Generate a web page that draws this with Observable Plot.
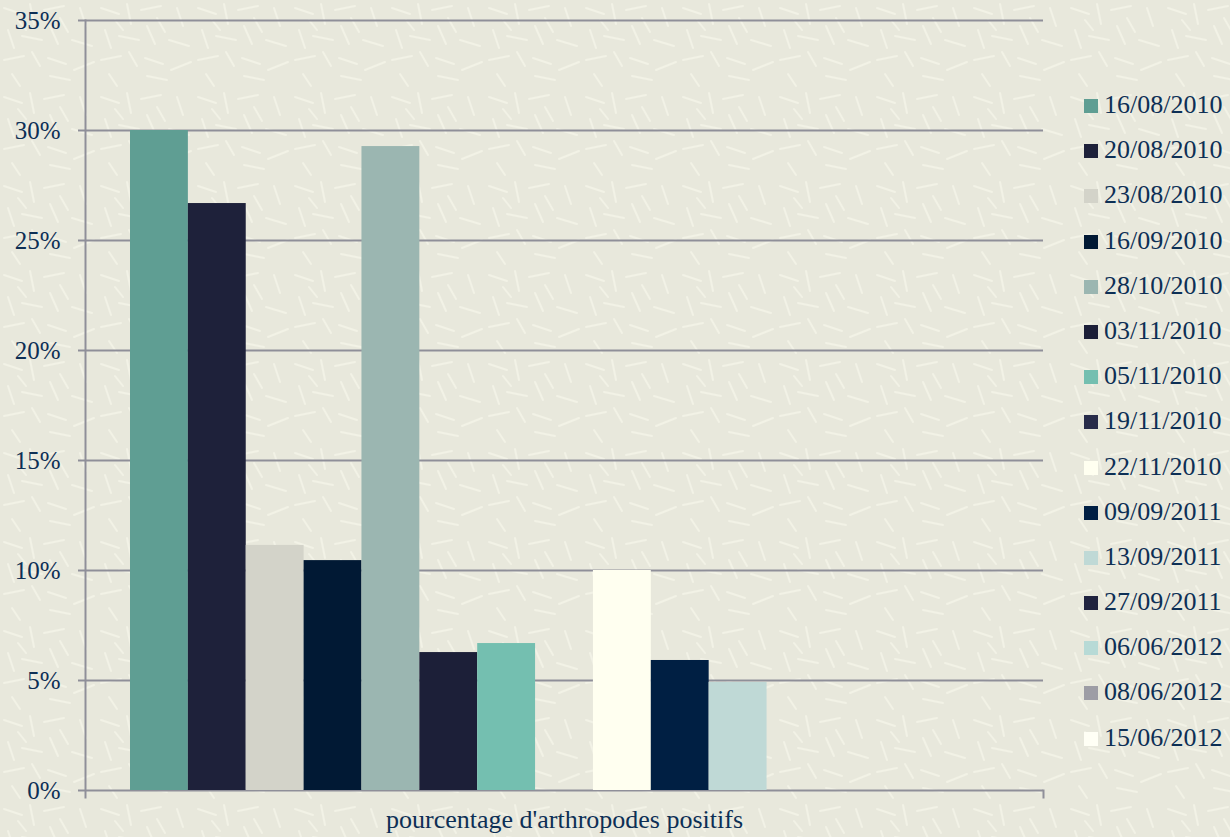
<!DOCTYPE html>
<html>
<head>
<meta charset="utf-8">
<script src="https://cdn.jsdelivr.net/npm/d3@7"></script>
<script src="https://cdn.jsdelivr.net/npm/@observablehq/plot@0.6"></script>
<style>
  html, body { margin: 0; padding: 0; }
  body {
    width: 1230px; height: 837px; position: relative; overflow: hidden;
    font-family: "Liberation Serif", "DejaVu Serif", serif;
    background-color: #e8e8dc;
    background-image: url("data:image/svg+xml;utf8,<svg xmlns='http://www.w3.org/2000/svg' width='97' height='89'><g stroke='%23f2f2e6' stroke-width='2' stroke-linecap='round' fill='none'><path d='M4 8 L22 14'/><path d='M30 4 L34 24'/><path d='M44 10 L64 6'/><path d='M8 30 L14 48'/><path d='M22 36 L42 40'/><path d='M50 26 L58 44'/><path d='M4 60 L24 56'/><path d='M32 52 L40 66'/><path d='M48 58 L66 64'/><path d='M60 18 L68 32'/><path d='M18 20 L26 30'/><path d='M72 40 L92 46'/><path d='M80 8 L86 26'/><path d='M74 70 L94 62'/><path d='M12 74 L20 86'/><path d='M50 76 L70 80'/></g></svg>");
  }
  #chart { position: absolute; left: 0; top: 0; }
  #legend { position: absolute; left: 1084px; top: 91px; }
  .item { height: 45.2px; display: flex; align-items: flex-start; }
  .sw { width: 14px; height: 14px; margin-top: 8px; margin-right: 6px; }
  .lab { font-size: 26px; color: #0d2f55; line-height: 28px; }
</style>
</head>
<body>
<div id="chart"></div>
<div id="legend"></div>
<script>
const dates = ["16/08/2010","20/08/2010","23/08/2010","16/09/2010","28/10/2010","03/11/2010","05/11/2010","19/11/2010","22/11/2010","09/09/2011","13/09/2011","27/09/2011","06/06/2012","08/06/2012","15/06/2012"];
const values = [30.0, 26.68, 11.14, 10.45, 29.27, 6.27, 6.68, 0, 10.0, 5.91, 4.91, 0, 0, 0, 0];
const colors = ["#5f9e93","#1e213a","#d3d3c9","#011934","#9bb6b1","#1c1f38","#74bfb0","#282c4a","#fffff0","#001f43","#bfd9d6","#20233f","#b7dad6","#9d9da5","#fffff5"];
const yTicks = [0, 5, 10, 15, 20, 25, 30, 35];
const categoryLabel = "pourcentage d'arthropodes positifs";

const data = dates.map((d, i) => ({date: d, value: values[i]}));
const textColor = "#0d2f55";
const axisColor = "#8f8f99";

const chart = Plot.plot({
  width: 1230,
  height: 837,
  marginLeft: 85,
  marginRight: 187,
  marginTop: 20,
  marginBottom: 47,
  style: {background: "transparent", fontFamily: "Liberation Serif, serif", color: textColor},
  x: {domain: dates, range: [130, 998], padding: 0, round: false, axis: null},
  y: {domain: [0, 35], ticks: yTicks, axis: null},
  color: {domain: dates, range: colors},
  marks: [
    Plot.ruleY(yTicks, {stroke: axisColor, strokeWidth: 2, strokeOpacity: 1, insetLeft: -7}),
    Plot.barY(data, {x: "date", y: "value", fill: "date"}),
    Plot.frame({anchor: "left", stroke: axisColor, strokeWidth: 2, strokeOpacity: 1, insetBottom: -7}),
    Plot.frame({anchor: "right", stroke: axisColor, strokeWidth: 2, strokeOpacity: 1, insetTop: 770, insetBottom: -7}),
    Plot.axisY({ticks: yTicks, tickFormat: d => d + "%", tickSize: 0, tickPadding: 25, fontSize: 25, fill: textColor, label: null}),
    Plot.text([categoryLabel], {frameAnchor: "bottom", dy: 37, fontSize: 26, fill: textColor})
  ]
});
document.getElementById("chart").appendChild(chart);

const legend = document.getElementById("legend");
dates.forEach((d, i) => {
  const item = document.createElement("div");
  item.className = "item";
  item.innerHTML = `<div class="sw" style="background:${colors[i]}"></div><div class="lab">${d}</div>`;
  legend.appendChild(item);
});
</script>
</body>
</html>
